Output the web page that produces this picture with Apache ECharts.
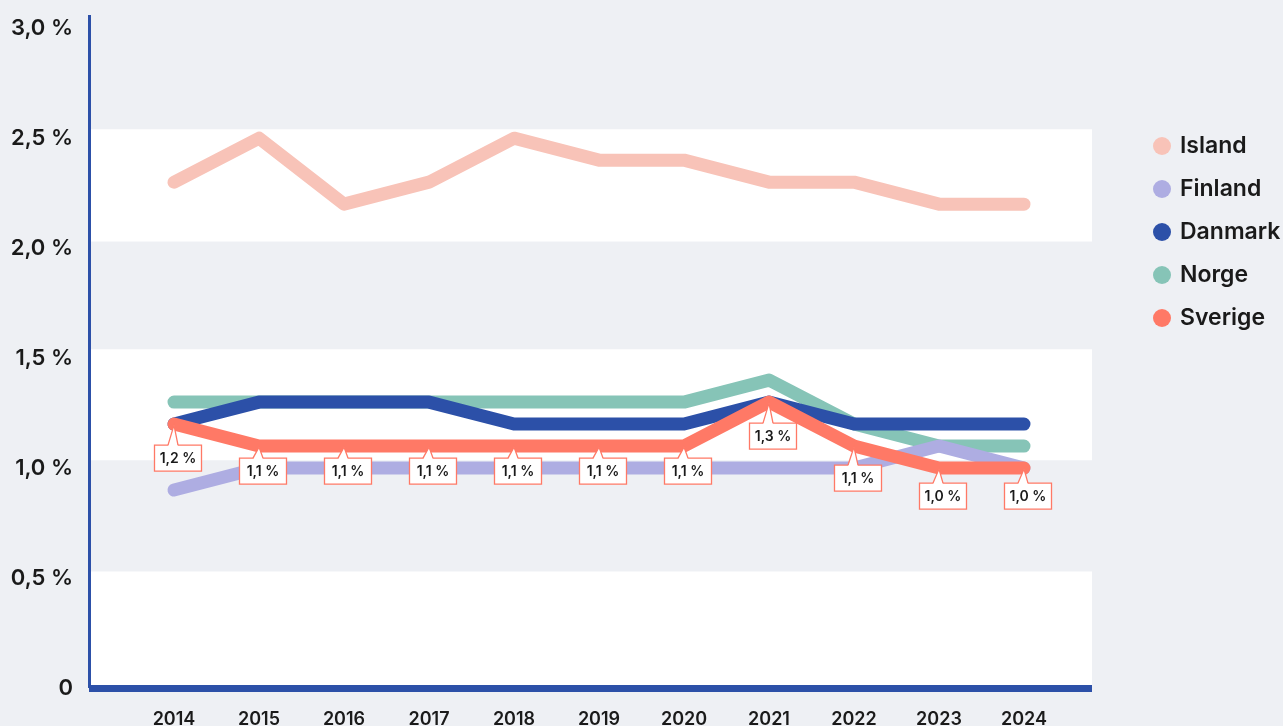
<!DOCTYPE html>
<html>
<head>
<meta charset="utf-8">
<script src="https://cdn.jsdelivr.net/npm/echarts@6/dist/echarts.min.js"></script>
<style>
  html, body { margin: 0; padding: 0; background: #eef0f4; }
  #chart { width: 1283px; height: 726px; }
</style>
</head>
<body>
<div id="chart"></div>
<script>
// ---- data ----
const years   = [2014, 2015, 2016, 2017, 2018, 2019, 2020, 2021, 2022, 2023, 2024];
const island  = [2.3, 2.5, 2.2, 2.3, 2.5, 2.4, 2.4, 2.3, 2.3, 2.2, 2.2];
const finland = [0.9, 1.0, 1.0, 1.0, 1.0, 1.0, 1.0, 1.0, 1.0, 1.1, 1.0];
const danmark = [1.2, 1.3, 1.3, 1.3, 1.2, 1.2, 1.2, 1.3, 1.2, 1.2, 1.2];
const norge   = [1.3, 1.3, 1.3, 1.3, 1.3, 1.3, 1.3, 1.4, 1.2, 1.1, 1.1];
const sverige = [1.2, 1.1, 1.1, 1.1, 1.1, 1.1, 1.1, 1.3, 1.1, 1.0, 1.0];
const yTicks  = [0, 0.5, 1.0, 1.5, 2.0, 2.5, 3.0];

// ---- styling ----
const FONT = 'Inter, "Noto Sans", sans-serif';
const TEXT = '#1a1a1a';
const AXIS = '#2c50a8';
const colors = { Island: '#f8c3b8', Finland: '#aeade2', Danmark: '#2c50a8', Norge: '#86c4b7', Sverige: '#ff7966' };
const calloutDrop = [21, 12, 12, 12, 12, 12, 12, 21, 19, 15, 15];

function pct(v) {
  if (v === 0) return '0';
  return v.toFixed(1).replace('.', ',') + ' %';
}
function pairs(arr) { return years.map((y, i) => [y, arr[i]]); }

function lineSeries(name, arr) {
  return {
    name: name,
    type: 'line',
    data: pairs(arr),
    color: colors[name],
    showSymbol: false,
    symbol: 'none',
    silent: true,
    z: 3,
    lineStyle: { width: 13, color: colors[name], cap: 'round', join: 'round' }
  };
}

const chart = echarts.init(document.getElementById('chart'), null, { renderer: 'canvas' });

const option = {
  backgroundColor: '#eef0f4',
  animation: false,
  grid: { left: 89, right: 191, top: 15, bottom: 38, containLabel: false, outerBoundsMode: 'none' },
  legend: {
    data: ['Island', 'Finland', 'Danmark', 'Norge', 'Sverige'],
    orient: 'vertical',
    left: 1148,
    top: 129,
    icon: 'circle',
    itemWidth: 18,
    itemHeight: 18,
    itemGap: 19,
    selectedMode: false,
    textStyle: { fontFamily: FONT, fontSize: 23, fontWeight: 600, color: TEXT, lineHeight: 24, padding: [0, 0, 0, 4] }
  },
  xAxis: {
    type: 'value',
    min: 2013,
    max: 2024.8,
    interval: 1,
    z: 6,
    axisLine: { show: true, onZero: false, lineStyle: { color: AXIS, width: 7, cap: 'butt' } },
    axisTick: { show: false },
    splitLine: { show: false },
    axisLabel: {
      margin: 23,
      fontFamily: FONT, fontSize: 18, fontWeight: 600, color: TEXT,
      showMaxLabel: false,
      formatter: v => (years.indexOf(Math.round(v)) >= 0 && Math.abs(v - Math.round(v)) < 1e-6) ? String(Math.round(v)) : ''
    }
  },
  yAxis: {
    type: 'value',
    min: 0,
    max: 3.06,
    interval: 0.5,
    z: 5,
    axisLine: { show: true, lineStyle: { color: AXIS, width: 3, cap: 'butt' } },
    axisTick: { show: false },
    splitLine: { show: false },
    axisLabel: {
      margin: 16,
      padding: [8, 0, 0, 0],
      fontFamily: FONT, fontSize: 22, fontWeight: 600, color: TEXT,
      showMaxLabel: false,
      formatter: v => {
        const t = yTicks.find(k => Math.abs(k - v) < 1e-6);
        return t === undefined ? '' : pct(t);
      }
    }
  },
  series: [
    {
      name: 'bands',
      type: 'line',
      data: [],
      silent: true,
      z: 1,
      markArea: {
        silent: true,
        itemStyle: { color: '#ffffff' },
        data: [
          [{ yAxis: 0 }, { yAxis: 0.53 }],
          [{ yAxis: 1.035 }, { yAxis: 1.54 }],
          [{ yAxis: 2.03 }, { yAxis: 2.54 }]
        ]
      }
    },
    lineSeries('Island', island),
    lineSeries('Norge', norge),
    lineSeries('Finland', finland),
    lineSeries('Danmark', danmark),
    lineSeries('Sverige', sverige),
    {
      name: 'callouts',
      type: 'custom',
      silent: true,
      clip: false,
      z: 10,
      data: pairs(sverige),
      renderItem: function (params, api) {
        const p = api.coord([api.value(0), api.value(1)]);
        const drop = calloutDrop[params.dataIndex];
        const bw = 47, bh = 26;
        const cx = p[0] + 4;
        const top = p[1] + drop;
        return {
          type: 'group',
          children: [
            { type: 'rect', shape: { x: cx - bw / 2, y: top, width: bw, height: bh },
              style: { fill: '#ffffff', stroke: '#ff7966', lineWidth: 1.3 } },
            { type: 'polygon', shape: { points: [[p[0], p[1] + 1], [p[0] - 6, top + 1.5], [p[0] + 4, top + 1.5]] },
              style: { fill: '#ffffff', stroke: null } },
            { type: 'polyline', shape: { points: [[p[0] - 6, top], [p[0], p[1] + 1], [p[0] + 4, top]] },
              style: { fill: null, stroke: '#ff7966', lineWidth: 1.3 } },
            { type: 'text', style: { text: pct(api.value(1)), x: cx, y: top + bh / 2 + 1,
              align: 'center', verticalAlign: 'middle',
              fontFamily: FONT, fontSize: 14, fontWeight: 600, fill: TEXT } }
          ]
        };
      }
    }
  ]
};

chart.setOption(option);
</script>
</body>
</html>
